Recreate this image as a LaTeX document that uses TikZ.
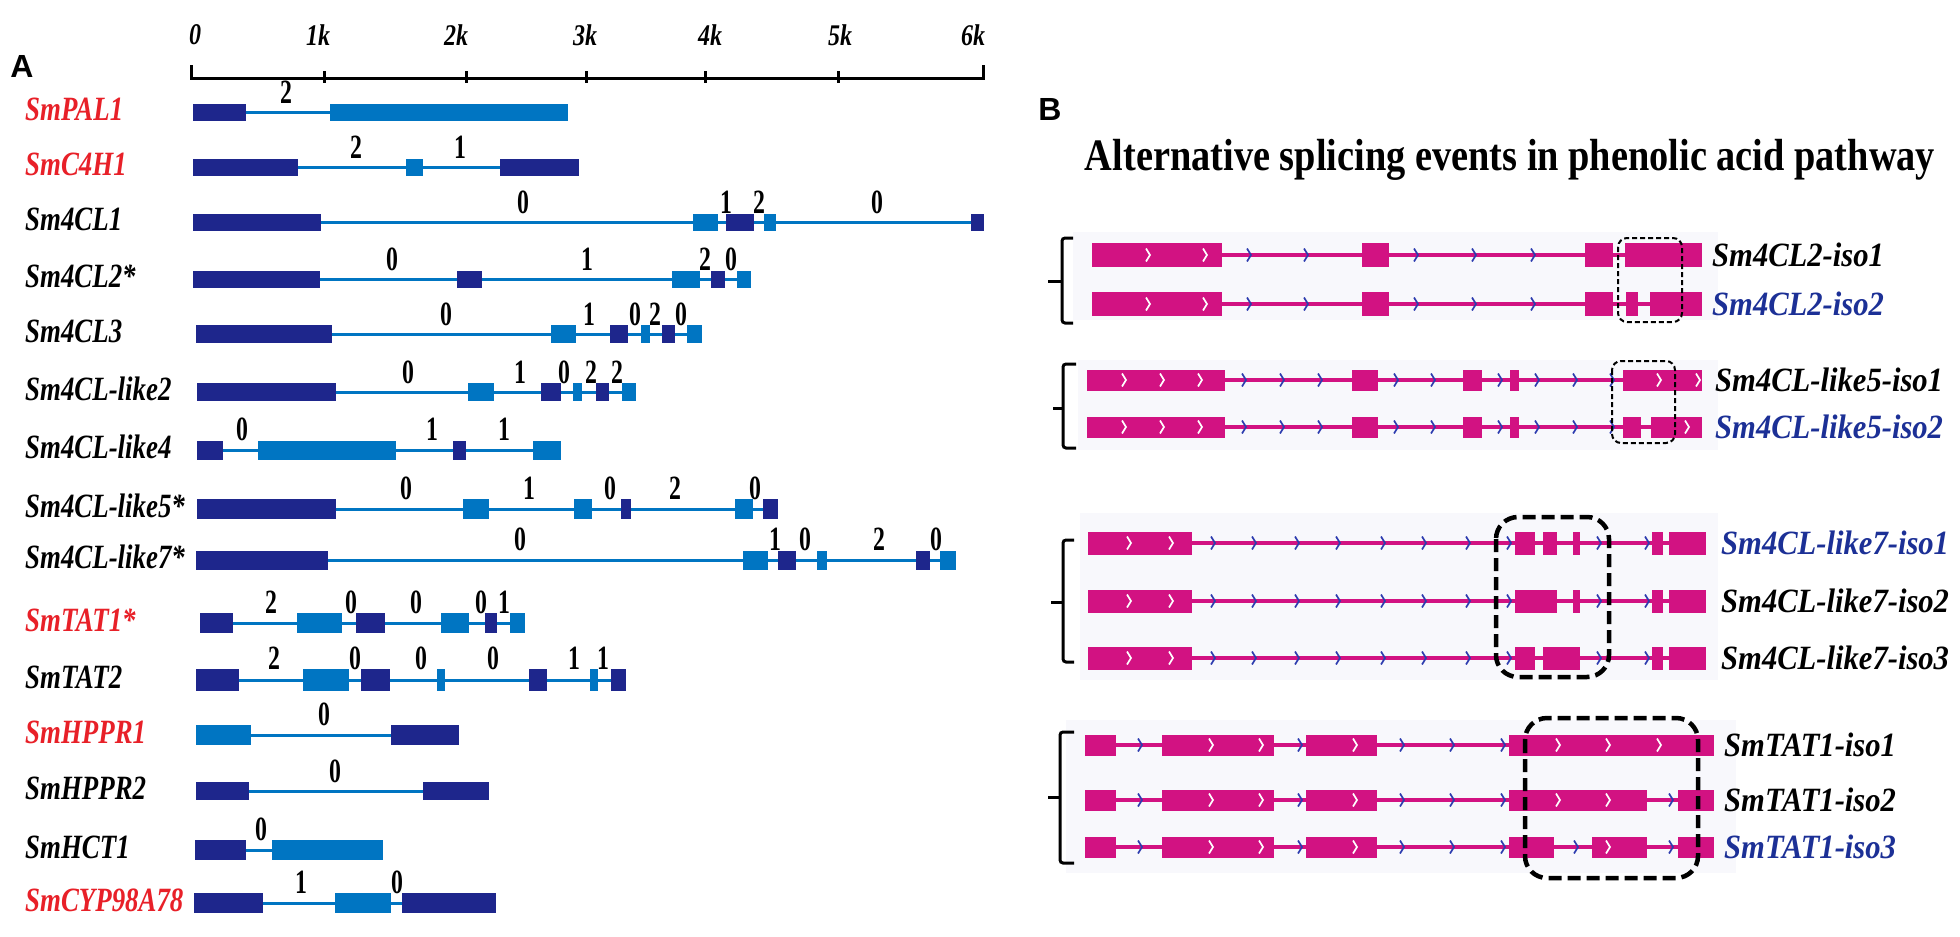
\documentclass[tikz,border=0pt]{standalone}
\usepackage{fontspec}
\usepackage{graphicx}
\setmainfont{Liberation Serif}
\newfontfamily\namefont[FakeStretch=0.79]{Liberation Serif}
\newfontfamily\digfont[FakeStretch=0.7]{Liberation Serif}
\newfontfamily\axfont[FakeStretch=0.8]{Liberation Serif}
\newfontfamily\isofont[FakeStretch=0.9]{Liberation Serif}
\newfontfamily\panelfont{Liberation Sans}
\definecolor{exd}{RGB}{30,38,140}
\definecolor{exl}{RGB}{0,117,194}
\definecolor{mag}{RGB}{210,18,130}
\definecolor{chevb}{RGB}{45,60,175}
\definecolor{bgp}{RGB}{248,248,252}
\definecolor{gred}{RGB}{232,32,40}
\definecolor{gblue}{RGB}{28,48,150}
\tikzset{
  genename/.style={anchor=base west, inner sep=0pt, font=\namefont\bfseries\itshape\fontsize{34}{36}\selectfont},
  phase/.style={anchor=base, inner sep=0pt, font=\digfont\bfseries\fontsize{34}{36}\selectfont},
  axlab/.style={anchor=center, font=\axfont\bfseries\itshape\fontsize{30}{32}\selectfont},
  isolab/.style={anchor=west, inner sep=0pt, font=\isofont\bfseries\itshape\fontsize{34}{36}\selectfont},
  panellab/.style={font=\panelfont\bfseries\fontsize{32}{34}\selectfont},
  intronA/.style={exl, line width=3pt},
  intronB/.style={mag, line width=3.5pt},
  brk/.style={black, line width=3pt, rounded corners=3pt},
  dthin/.style={black, line width=2pt, dash pattern=on 5pt off 3pt, rounded corners=9pt},
  dthick/.style={black, line width=4.5pt, dash pattern=on 13pt off 6pt, rounded corners=22pt},
}
% gene row of panel A: #1 cy, #2 half height, #3 name, #4 name colour, #5 line start, #6 line end, #7 exons, #8 phases, #9 id
\newcommand\generow[9]{%
  \draw[intronA] (#5,#1) -- (#6,#1);
  \foreach \a/\b/\c in {#7} { \fill[\c] (\a,#1-#2) rectangle (\b,#1+#2); }
  \foreach \x/\d in {#8} { \node[phase] at (\x,#1-#2) {\d}; }
  \node[genename, text=#4] (g#9) at (25,#1+8) {#3};
}
\newcommand\chv[3]{\draw[#3, line width=1.7pt] (#1-2,#2-6.5) -- (#1+2,#2) -- (#1-2,#2+6.5);}
% isoform row of panel B: #1 cy, #2 half height, #3 line start, #4 line end, #5 exons, #6 blue chevrons, #7 white chevrons
\newcommand\isorow[7]{%
  \draw[intronB] (#3,#1) -- (#4,#1);
  \foreach \a/\b in {#5} { \fill[mag] (\a,#1-#2) rectangle (\b,#1+#2); }
  \foreach \x in {#6} { \chv{\x}{#1}{chevb} }
  \foreach \x in {#7} { \chv{\x}{#1}{white} }
}
% bracket: #1 x, #2 hook end x, #3 top, #4 bottom, #5 middle, #6 tick end x
\newcommand\isobracket[6]{%
  \draw[brk] (#2,#3) -- (#1,#3) -- (#1,#4) -- (#2,#4);
  \draw[black, line width=3pt] (#1,#5) -- (#6,#5);
}
\begin{document}
\begin{tikzpicture}[x=1pt,y=-1pt]
\useasboundingbox (0,0) rectangle (1960,937);
\fill[white] (0,0) rectangle (1960,937);

% ---------------- Panel A ----------------
\node[panellab] (labA) at (22,66) {A};
% axis
\draw[black, line width=3pt] (191,65) -- (191,78) -- (983,78) -- (983,65);
\foreach \t in {324,466,586,705,838} { \draw[black, line width=3pt] (\t,71) -- (\t,83); }
\foreach \x/\l in {195/0,318/1k,456/2k,585/3k,710/4k,840/5k,973/6k} { \node[axlab] at (\x,35) {\l}; }

\generow{112}{8.5}{SmPAL1}{gred}{193}{568}{193/246/exd,330/568/exl}{286/2}{1}
\generow{167}{8.5}{SmC4H1}{gred}{193}{579}{193/298/exd,406/423/exl,500/579/exd}{356/2,460/1}{2}
\generow{222}{8.5}{Sm4CL1}{black}{193}{984}{193/321/exd,693/718/exl,726/754/exd,764/776/exl,971/984/exd}{523/0,726/1,759/2,877/0}{3}
\generow{279}{8.5}{Sm4CL2*}{black}{193}{751}{193/320/exd,457/482/exd,672/700/exl,711/725/exd,737/751/exl}{392/0,587/1,705/2,731/0}{4}
\generow{334}{9}{Sm4CL3}{black}{196}{702}{196/332/exd,551/576/exl,610/628/exd,641/650/exl,662/675/exd,687/702/exl}{446/0,589/1,635/0,655/2,681/0}{5}
\generow{392}{9}{Sm4CL-like2}{black}{197}{636}{197/336/exd,468/494/exl,541/561/exd,573/582/exl,596/609/exd,622/636/exl}{408/0,520/1,564/0,591/2,617/2}{6}
\generow{450}{9.5}{Sm4CL-like4}{black}{197}{561}{197/223/exd,258/396/exl,453/466/exd,533/561/exl}{242/0,432/1,504/1}{7}
\generow{509}{10}{Sm4CL-like5*}{black}{197}{778}{197/336/exd,463/489/exl,574/592/exl,621/631/exd,735/753/exl,763/778/exd}{406/0,529/1,610/0,675/2,755/0}{8}
\generow{560}{9.5}{Sm4CL-like7*}{black}{196}{956}{196/328/exd,743/768/exl,778/796/exd,817/827/exl,916/930/exd,940/956/exl}{520/0,775/1,805/0,879/2,936/0}{9}
\generow{623}{10}{SmTAT1*}{gred}{200}{525}{200/233/exd,297/342/exl,356/385/exd,441/469/exl,485/497/exd,510/525/exl}{271/2,351/0,416/0,481/0,504/1}{10}
\generow{680}{11}{SmTAT2}{black}{196}{626}{196/239/exd,303/349/exl,361/390/exd,437/445/exl,529/547/exd,590/598/exl,611/626/exd}{274/2,355/0,421/0,493/0,574/1,603/1}{11}
\generow{735}{10}{SmHPPR1}{gred}{196}{459}{196/251/exl,391/459/exd}{324/0}{12}
\generow{791}{9}{SmHPPR2}{black}{196}{489}{196/249/exd,423/489/exd}{335/0}{13}
\generow{850}{10}{SmHCT1}{black}{195}{383}{195/246/exd,272/383/exl}{261/0}{14}
\generow{903}{10}{SmCYP98A78}{gred}{194}{496}{194/263/exd,335/391/exl,402/496/exd}{301/1,397/0}{15}

% ---------------- Panel B ----------------
\node[panellab] (labB) at (1050,109) {B};
\node (title) at (1510,160) {\resizebox{850pt}{\height}{\bfseries\fontsize{45}{47}\selectfont Alternative splicing events in phenolic acid pathway}};

% group 1: Sm4CL2
\fill[bgp] (1073,232) rectangle (1718,320);
\isorow{255}{12}{1092}{1702}{1092/1222,1362/1389,1585/1613,1625/1702}{1249,1306,1416,1474,1533}{1148,1205}
\isorow{304}{12}{1092}{1702}{1092/1222,1362/1389,1585/1613,1626/1638,1650/1702}{1249,1306,1416,1474,1533}{1148,1205}
\draw[dthin] (1618,238) rectangle (1682,322);
\isobracket{1062}{1073}{238}{323}{281}{1048}
\node[isolab, text=black] (i1a) at (1712,255) {Sm4CL2-iso1};
\node[isolab, text=gblue] (i1b) at (1712,304) {Sm4CL2-iso2};

% group 2: Sm4CL-like5
\fill[bgp] (1078,360) rectangle (1718,450);
\isorow{380}{10.5}{1087}{1702}{1087/1225,1352/1378,1463/1482,1510/1519,1623/1702}{1244,1282,1320,1396,1433,1500,1537,1575,1612}{1124,1162,1200,1659,1698}
\isorow{427}{10.5}{1087}{1702}{1087/1225,1352/1378,1463/1482,1510/1519,1623/1641,1651/1702}{1244,1282,1320,1396,1433,1500,1537,1575,1612}{1124,1162,1200,1687}
\draw[dthin] (1612,361) rectangle (1675,443);
\isobracket{1063}{1076}{364}{448}{408}{1053}
\node[isolab, text=black] (i2a) at (1715,380) {Sm4CL-like5-iso1};
\node[isolab, text=gblue] (i2b) at (1715,427) {Sm4CL-like5-iso2};

% group 3: Sm4CL-like7
\fill[bgp] (1080,513) rectangle (1718,680);
\isorow{543}{11.5}{1088}{1706}{1088/1192,1515/1535,1543/1557,1573/1580,1652/1663,1669/1706}{1213,1254,1297,1338,1383,1424,1468,1509,1599,1647}{1129,1171}
\isorow{601}{11.5}{1088}{1706}{1088/1192,1515/1557,1573/1580,1652/1663,1669/1706}{1213,1254,1297,1338,1383,1424,1468,1509,1599,1647}{1129,1171}
\isorow{658}{11.5}{1088}{1706}{1088/1192,1515/1535,1543/1580,1652/1663,1669/1706}{1213,1254,1297,1338,1383,1424,1468,1509,1599,1647}{1129,1171}
\draw[dthick] (1496,517) rectangle (1609,677);
\isobracket{1063}{1074}{540}{662}{602}{1051}
\node[isolab, text=gblue] (i3a) at (1721,543) {Sm4CL-like7-iso1};
\node[isolab, text=black] (i3b) at (1721,601) {Sm4CL-like7-iso2};
\node[isolab, text=black] (i3c) at (1721,658) {Sm4CL-like7-iso3};

% group 4: SmTAT1
\fill[bgp] (1066,720) rectangle (1736,873);
\isorow{745}{10.5}{1085}{1714}{1085/1116,1162/1274,1306/1377,1509/1714}{1140,1300,1402,1452,1503}{1211,1261,1355,1558,1608,1659}
\isorow{800}{10.5}{1085}{1714}{1085/1116,1162/1274,1306/1377,1509/1647,1678/1714}{1140,1300,1402,1452,1503,1671}{1211,1261,1355,1558,1608}
\isorow{847}{10.5}{1085}{1714}{1085/1116,1162/1274,1306/1377,1509/1554,1592/1647,1678/1714}{1140,1300,1402,1452,1503,1576,1671}{1211,1261,1355,1608}
\draw[dthick] (1525,718) rectangle (1698,878);
\isobracket{1060}{1074}{732}{863}{797}{1048}
\node[isolab, text=black] (i4a) at (1724,745) {SmTAT1-iso1};
\node[isolab, text=black] (i4b) at (1724,800) {SmTAT1-iso2};
\node[isolab, text=gblue] (i4c) at (1724,847) {SmTAT1-iso3};
\end{tikzpicture}
\end{document}
